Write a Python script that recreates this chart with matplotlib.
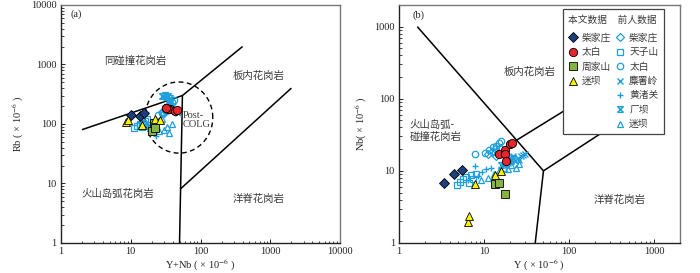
import numpy as np
import matplotlib
matplotlib.use("Agg")
import matplotlib.pyplot as plt
from matplotlib.path import Path
from matplotlib.lines import Line2D

plt.rcParams['font.family'] = ['Liberation Serif', 'Noto Sans CJK SC', 'DejaVu Sans']
plt.rcParams['mathtext.fontset'] = 'stix'

CJK = ['Noto Sans CJK SC', 'DejaVu Sans']

# ---------------- own data (本文数据) ----------------
own_names = ['柴家庄', '太白', '周家山', '迷坝']
cjz_Y = [3.4, 4.4, 5.5]
cjz_Nb = [6.7, 9.0, 10.2]
cjz_Rb = [144, 137, 154]

tb_Y = [14.9, 17.5, 17.5, 18.3, 20.0, 21.3]
tb_Nb = [17.4, 19.4, 17.0, 13.6, 23.5, 24.5]
tb_Rb = [185, 180, 178, 187, 168, 172]

zjs_Y = [13.4, 14.9, 17.5]
zjs_Nb = [6.5, 6.7, 4.8]
zjs_Rb = [76, 104, 84]

mb_Y = [6.5, 6.7, 7.9, 13.4, 16.0]
mb_Nb = [1.96, 2.35, 6.5, 8.7, 9.9]
mb_Rb = [108, 116, 95, 123, 116]

# ---------------- previous data (前人数据) ----------------
p_cjz_Y = [11.0, 12.5, 13.5, 14.0, 15.5]
p_cjz_Nb = [17.0, 18.5, 20.0, 16.0, 21.0]
p_cjz_Rb = [160, 170, 190, 150, 200]

p_tzs_Y = [4.8, 5.2, 5.6, 6.2, 7.0, 6.6, 7.5, 8.0]
p_tzs_Nb = [6.3, 7.0, 7.8, 8.3, 8.8, 6.8, 7.6, 9.0]
p_tzs_Rb = [85, 92, 100, 88, 110, 95, 105, 120]

p_tb_Y = [7.9, 10.2, 11.5, 12.8, 14.0, 15.0, 16.0, 13.5]
p_tb_Nb = [17.0, 17.5, 19.5, 21.5, 22.0, 24.0, 26.0, 18.0]
p_tb_Rb = [140, 155, 170, 200, 180, 230, 250, 165]

p_msl_Y = [17, 19, 21, 23, 25, 27, 29, 30, 22, 26]
p_msl_Nb = [12, 13, 14.5, 13.5, 15, 16, 16.5, 17, 16, 14]
p_msl_Rb = [290, 270, 250, 220, 200, 180, 160, 150, 240, 170]

p_hzg_Y = [6.5, 7.8, 8.5, 9.5, 10.5, 12.0]
p_hzg_Nb = [7.4, 11.7, 8.5, 9.5, 10.5, 11.0]
p_hzg_Rb = [90, 80, 100, 95, 105, 62]

p_cb_Y = [16, 17.5, 19, 20.5, 22]
p_cb_Nb = [12, 13, 14, 13.5, 15]
p_cb_Rb = [290, 310, 280, 300, 270]

p_mb_Y = [9.3, 11, 13, 15, 17, 19, 21, 24, 26]
p_mb_Nb = [7.4, 8, 9, 10, 11, 10.5, 12, 11, 12.6]
p_mb_Rb = [95, 85, 110, 75, 120, 80, 90, 70, 100]

prev_names = ['柴家庄', '天子山', '太白', '麋署岭', '黄渚关', '厂坝', '迷坝']

# ---------------- discrimination boundaries (Pearce 1984) ----------------
a_bound1_x = [2, 55, 400]
a_bound1_y = [80, 300, 2000]
a_bound2_x = [50, 55]
a_bound2_y = [1, 300]
a_bound3_x = [51, 2000]
a_bound3_y = [8, 400]
postcolg_center = (49, 128)

b_bound1_x = [1.64, 50, 40]
b_bound1_y = [1000, 10, 1]
b_bound2_x = [50, 1000]
b_bound2_y = [10, 100]
b_bound3_x = [22.5, 1000]
b_bound3_y = [25.3, 400]

# ---------------- style ----------------
C_NAVY = '#1d3f7e'
C_RED = '#e8252b'
C_GREEN = '#86b443'
C_YEL = '#fff200'
C_CY = '#1f9fdc'
TXT = '#3a3a3a'

hourglass = Path([(-1, 1), (1, -1), (-1, -1), (1, 1), (-1, 1), (1, 1), (-1, -1), (1, -1)],
                 [Path.MOVETO, Path.LINETO, Path.MOVETO, Path.LINETO,
                  Path.MOVETO, Path.LINETO, Path.MOVETO, Path.LINETO])

own_style = [
    dict(marker='D', ms=4.6, mfc=C_NAVY, mec='black', mew=0.6),
    dict(marker='o', ms=6.0, mfc=C_RED, mec='black', mew=0.6),
    dict(marker='s', ms=5.2, mfc=C_GREEN, mec='black', mew=0.6),
    dict(marker='^', ms=6.0, mfc=C_YEL, mec='black', mew=0.6),
]
prev_style = [
    dict(marker='D', ms=3.6, mfc='none', mec=C_CY, mew=0.9),
    dict(marker='s', ms=4.2, mfc='none', mec=C_CY, mew=0.9),
    dict(marker='o', ms=4.6, mfc='none', mec=C_CY, mew=0.9),
    dict(marker='x', ms=4.2, mfc='none', mec=C_CY, mew=1.0),
    dict(marker='+', ms=4.8, mfc='none', mec=C_CY, mew=1.0),
    dict(marker=hourglass, ms=4.2, mfc='none', mec=C_CY, mew=1.0),
    dict(marker='^', ms=4.8, mfc='none', mec=C_CY, mew=0.9),
]

own_data = [(cjz_Y, cjz_Nb, cjz_Rb), (tb_Y, tb_Nb, tb_Rb),
            (zjs_Y, zjs_Nb, zjs_Rb), (mb_Y, mb_Nb, mb_Rb)]
prev_data = [(p_cjz_Y, p_cjz_Nb, p_cjz_Rb), (p_tzs_Y, p_tzs_Nb, p_tzs_Rb),
             (p_tb_Y, p_tb_Nb, p_tb_Rb), (p_msl_Y, p_msl_Nb, p_msl_Rb),
             (p_hzg_Y, p_hzg_Nb, p_hzg_Rb), (p_cb_Y, p_cb_Nb, p_cb_Rb),
             (p_mb_Y, p_mb_Nb, p_mb_Rb)]

fig = plt.figure(figsize=(7.0, 2.73), dpi=100)
axa = fig.add_axes([0.087, 0.110, 0.399, 0.872])
axb = fig.add_axes([0.570, 0.110, 0.401, 0.872])


def style_axes(ax):
    ax.set_xscale('log')
    ax.set_yscale('log')
    ax.tick_params(which='both', direction='in', top=False, right=False,
                   labelsize=7.5, labelcolor='#222222', color='#222222')
    ax.tick_params(which='major', length=3, width=0.7, pad=3)
    ax.tick_params(which='minor', length=1.8, width=0.6)
    for s in ['left', 'bottom']:
        ax.spines[s].set_color('#222222')
        ax.spines[s].set_linewidth(1.0)
    for s in ['top', 'right']:
        ax.spines[s].set_color('#777777')
        ax.spines[s].set_linewidth(1.0)
    ax.xaxis.set_major_formatter(matplotlib.ticker.FuncFormatter(lambda v, p: f'{v:g}'))
    ax.yaxis.set_major_formatter(matplotlib.ticker.FuncFormatter(lambda v, p: f'{v:g}'))
    ax.xaxis.set_minor_formatter(matplotlib.ticker.NullFormatter())
    ax.yaxis.set_minor_formatter(matplotlib.ticker.NullFormatter())


# ---------------- panel (a) ----------------
style_axes(axa)
axa.set_xlim(1, 10000)
axa.set_ylim(1, 10000)
lk = dict(color='black', lw=1.1, solid_capstyle='butt')
axa.plot(a_bound1_x, a_bound1_y, **lk)
axa.plot(a_bound2_x, a_bound2_y, **lk)
axa.plot(a_bound3_x, a_bound3_y, **lk)
t = np.linspace(0, 2 * np.pi, 300)
cx, cy = np.log10(postcolg_center[0]), np.log10(postcolg_center[1])
axa.plot(10 ** (cx + 0.485 * np.cos(t)), 10 ** (cy + 0.598 * np.sin(t)),
         color='black', lw=1.0, ls=(0, (3.5, 2.5)))

for (Y, Nb, Rb), st in zip(prev_data, prev_style):
    axa.plot(np.add(Y, Nb), Rb, ls='none', **st)
for (Y, Nb, Rb), st in zip(own_data, own_style):
    axa.plot(np.add(Y, Nb), Rb, ls='none', **st)

tk = dict(fontsize=7.5, color=TXT, family=CJK)
axa.text(1.35, 6900, '(a)', fontsize=7.5, color='#222222', ha='left', va='center')
axa.text(11.5, 1150, '同碰撞花岗岩', ha='center', va='center', **tk)
axa.text(680, 645, '板内花岗岩', ha='center', va='center', **tk)
axa.text(56, 117, 'Post-\nCOLG', ha='left', va='center', fontsize=7.5, color=TXT,
         linespacing=1.1)
axa.text(6.6, 6.6, '火山岛弧花岗岩', ha='center', va='center', **tk)
axa.text(680, 5.4, '洋脊花岗岩', ha='center', va='center', **tk)
axa.set_xlabel('Y+Nb ( × 10$^{-6}$ )', fontsize=7.5, color='#222222', labelpad=1)
axa.set_ylabel('Rb ( × 10$^{-6}$ )', fontsize=7.5, color='#222222', labelpad=4)

# ---------------- panel (b) ----------------
style_axes(axb)
axb.set_xlim(1, 2000)
axb.set_ylim(1, 2000)
axb.plot(b_bound1_x, b_bound1_y, **lk)
axb.plot(b_bound2_x, b_bound2_y, **lk)
axb.plot(b_bound3_x, b_bound3_y, **lk)

for (Y, Nb, Rb), st in zip(prev_data, prev_style):
    axb.plot(Y, Nb, ls='none', **st)
for (Y, Nb, Rb), st in zip(own_data, own_style):
    axb.plot(Y, Nb, ls='none', **st)

axb.text(1.46, 1420, '(b)', fontsize=7.5, color='#222222', ha='left', va='center')
axb.text(34, 237, '板内花岗岩', ha='center', va='center', **tk)
axb.text(1.33, 36, '火山岛弧-\n碰撞花岗岩', ha='left', va='center', linespacing=1.25, **tk)
axb.text(395, 4.0, '洋脊花岗岩', ha='center', va='center', **tk)
axb.set_xlabel('Y ( × 10$^{-6}$ )', fontsize=7.5, color='#222222', labelpad=1)
axb.set_ylabel('Nb( × 10$^{-6}$ )', fontsize=7.5, color='#222222', labelpad=4)

# legend
handles = []
labels = []
for name, st in zip(own_names, own_style):
    handles.append(Line2D([], [], ls='none', **st))
    labels.append(name)
for _ in range(3):
    handles.append(Line2D([], [], ls='none', marker=None))
    labels.append(' ')
for name, st in zip(prev_names, prev_style):
    handles.append(Line2D([], [], ls='none', **st))
    labels.append(name)

leg = axb.legend(handles, labels, ncol=2, loc='upper right',
                 bbox_to_anchor=(0.943, 0.982), frameon=True, fancybox=False,
                 edgecolor='#444444', framealpha=1, borderpad=0.55,
                 prop={'family': CJK, 'size': 7}, labelspacing=0.45,
                 handlelength=0.9, handletextpad=0.45, columnspacing=0.55,
                 borderaxespad=0, title='本文数据     前人数据',
                 title_fontproperties={'family': CJK, 'size': 7},
                 alignment='left')
leg.get_frame().set_linewidth(0.9)
for txt in leg.get_texts():
    txt.set_color(TXT)
leg.get_title().set_color(TXT)
leg._legend_box.sep = 6

fig.savefig('out.png', dpi=100)
